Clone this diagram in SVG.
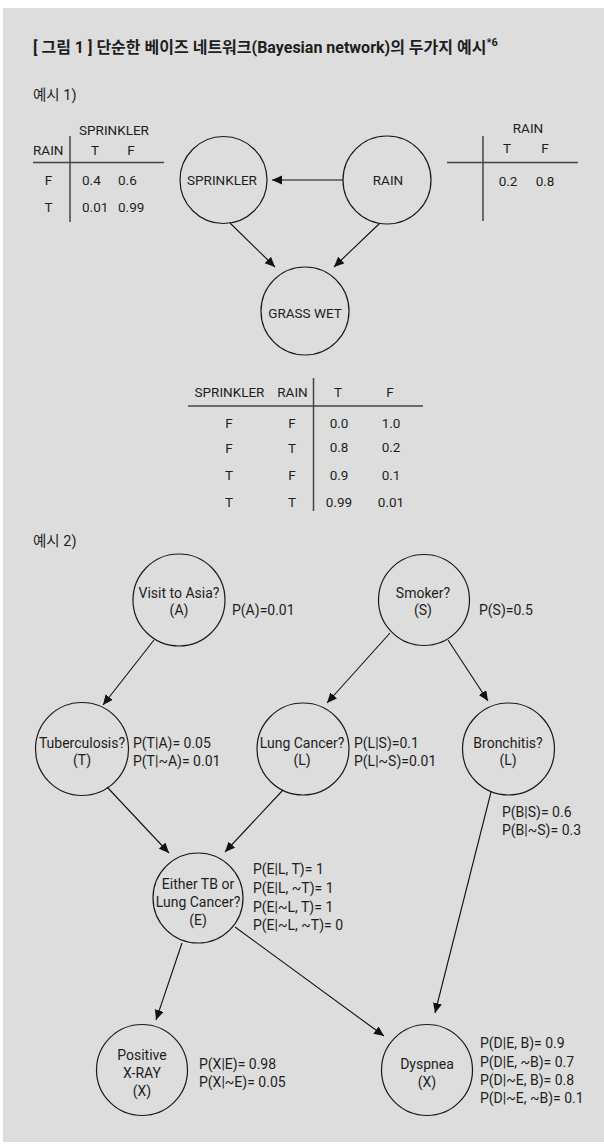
<svg xmlns="http://www.w3.org/2000/svg" width="604" height="1144" viewBox="0 0 604 1144">
<defs>
<marker id="arr" markerUnits="userSpaceOnUse" markerWidth="12" markerHeight="10" refX="10" refY="4.5" orient="auto">
<path d="M0,0 L10,4.5 L0,9 z" fill="#111"/>
</marker>
<style>
text{font-family:"Roboto","Noto Sans CJK KR",sans-serif;font-size:14px;fill:#1e1e1e}
.p1 text{font-size:13.5px}
.t{font-size:16px;font-weight:700}
.h{font-size:14.5px}
.c{text-anchor:middle}
.n{fill:none;stroke:#1a1a1a;stroke-width:1.2}
.tl{stroke:#444;stroke-width:1.5;fill:none}
.e{stroke:#111;stroke-width:1.1;fill:none;marker-end:url(#arr)}
</style>
</defs>
<rect x="0" y="0" width="604" height="1144" fill="#fff"/>
<rect x="3" y="8" width="601" height="1134" fill="#dcdddc"/>

<text class="t" x="33" y="53">[ 그림 1 ] 단순한 베이즈 네트워크(Bayesian network)의 두가지 예시<tspan font-size="11" dy="-7">*6</tspan></text>
<text class="h" x="33" y="100">예시 1)</text>

<g class="p1">
<g id="table-sprinkler">
<text class="c" x="114" y="135">SPRINKLER</text>
<text x="33" y="155">RAIN</text>
<text class="c" x="95" y="155">T</text>
<text class="c" x="131" y="155">F</text>
<line class="tl" x1="33" y1="162.5" x2="164" y2="162.5"/>
<line class="tl" x1="70" y1="136" x2="70" y2="222"/>
<text class="c" x="48.5" y="185">F</text>
<text x="82" y="185">0.4</text>
<text x="118" y="185">0.6</text>
<text class="c" x="48.5" y="212">T</text>
<text x="82" y="212">0.01</text>
<text x="118" y="212">0.99</text>
</g>

<g id="table-rain">
<text class="c" x="528" y="133">RAIN</text>
<text class="c" x="507" y="153">T</text>
<text class="c" x="545" y="153">F</text>
<line class="tl" x1="447" y1="162.5" x2="578" y2="162.5"/>
<line class="tl" x1="483" y1="136" x2="483" y2="221"/>
<text class="c" x="508" y="186">0.2</text>
<text class="c" x="545" y="186">0.8</text>
</g>

<g id="node-sprinkler">
<circle class="n" cx="223.5" cy="180" r="43.5"/>
<text class="c" x="222" y="185">SPRINKLER</text>
</g>
<g id="node-rain">
<circle class="n" cx="387" cy="180" r="44"/>
<text class="c" x="388" y="185">RAIN</text>
</g>
<g id="node-grasswet">
<circle class="n" cx="305" cy="311" r="44"/>
<text class="c" x="305" y="318">GRASS WET</text>
</g>

<g id="table-grasswet">
<text class="c" x="229.5" y="397">SPRINKLER</text>
<text class="c" x="292.5" y="397">RAIN</text>
<text class="c" x="338" y="397">T</text>
<text class="c" x="390" y="397">F</text>
<line class="tl" x1="188" y1="406" x2="423" y2="406"/>
<line class="tl" x1="313.5" y1="378" x2="313.5" y2="511"/>
<text class="c" x="229" y="428">F</text><text class="c" x="292" y="428">F</text><text class="c" x="339" y="428">0.0</text><text class="c" x="391" y="428">1.0</text>
<text class="c" x="229" y="453">F</text><text class="c" x="292" y="453">T</text><text class="c" x="339" y="452">0.8</text><text class="c" x="391" y="452">0.2</text>
<text class="c" x="229" y="480">T</text><text class="c" x="292" y="480">F</text><text class="c" x="339" y="480">0.9</text><text class="c" x="391" y="480">0.1</text>
<text class="c" x="229" y="507">T</text><text class="c" x="292" y="507">T</text><text class="c" x="339" y="507">0.99</text><text class="c" x="391" y="507">0.01</text>
</g>
</g>

<text class="h" x="33" y="546">예시 2)</text>

<g id="node-asia">
<circle class="n" cx="179" cy="600" r="46"/>
<text class="c" x="179" y="598">Visit to Asia?</text>
<text class="c" x="179" y="615">(A)</text>
<text x="232" y="615">P(A)=0.01</text>
</g>
<g id="node-smoker">
<circle class="n" cx="424" cy="600" r="45.5"/>
<text class="c" x="423" y="598">Smoker?</text>
<text class="c" x="423" y="615">(S)</text>
<text x="479" y="615">P(S)=0.5</text>
</g>
<g id="node-tuberculosis">
<circle class="n" cx="82" cy="749" r="46.5"/>
<text class="c" x="82" y="748">Tuberculosis?</text>
<text class="c" x="82" y="765">(T)</text>
<text x="133" y="748">P(T|A)= 0.05</text>
<text x="133" y="766">P(T|~A)= 0.01</text>
</g>
<g id="node-lungcancer">
<circle class="n" cx="303" cy="749" r="46"/>
<text class="c" x="302" y="748">Lung Cancer?</text>
<text class="c" x="302" y="765">(L)</text>
<text x="354" y="748">P(L|S)=0.1</text>
<text x="354" y="766">P(L|~S)=0.01</text>
</g>
<g id="node-bronchitis">
<circle class="n" cx="508.5" cy="749" r="46"/>
<text class="c" x="508" y="748">Bronchitis?</text>
<text class="c" x="508" y="765">(L)</text>
<text x="502" y="817">P(B|S)= 0.6</text>
<text x="502" y="835">P(B|~S)= 0.3</text>
</g>
<g id="node-either">
<circle class="n" cx="198" cy="898" r="45"/>
<text class="c" x="198" y="889">Either TB or</text>
<text class="c" x="198" y="907">Lung Cancer?</text>
<text class="c" x="198" y="925">(E)</text>
<text x="253" y="874">P(E|L, T)= 1</text>
<text x="253" y="893">P(E|L, ~T)= 1</text>
<text x="253" y="912">P(E|~L, T)= 1</text>
<text x="253" y="930">P(E|~L, ~T)= 0</text>
</g>
<g id="node-xray">
<circle class="n" cx="142" cy="1070" r="45.5"/>
<text class="c" x="142" y="1060">Positive</text>
<text class="c" x="142" y="1078">X-RAY</text>
<text class="c" x="142" y="1096">(X)</text>
<text x="199" y="1069">P(X|E)= 0.98</text>
<text x="199" y="1087">P(X|~E)= 0.05</text>
</g>
<g id="node-dyspnea">
<circle class="n" cx="427" cy="1070" r="45.5"/>
<text class="c" x="427" y="1069">Dyspnea</text>
<text class="c" x="427" y="1087">(X)</text>
<text x="480" y="1048">P(D|E, B)= 0.9</text>
<text x="480" y="1067">P(D|E, ~B)= 0.7</text>
<text x="480" y="1085">P(D|~E, B)= 0.8</text>
<text x="480" y="1103">P(D|~E, ~B)= 0.1</text>
</g>

<g id="connectors">
<line class="e" x1="343" y1="180" x2="272" y2="180"/>
<line class="e" x1="230" y1="223" x2="275" y2="267"/>
<line class="e" x1="380" y1="223" x2="334" y2="267"/>
<line class="e" x1="154" y1="640" x2="103" y2="705"/>
<line class="e" x1="390" y1="633" x2="327" y2="703"/>
<line class="e" x1="448" y1="640" x2="488" y2="701"/>
<line class="e" x1="107" y1="787" x2="169" y2="853"/>
<line class="e" x1="283" y1="790" x2="225" y2="852"/>
<line class="e" x1="182" y1="943" x2="156" y2="1020"/>
<line class="e" x1="235" y1="927" x2="384" y2="1036"/>
<line class="e" x1="491" y1="792" x2="435" y2="1013"/>
</g>
</svg>
